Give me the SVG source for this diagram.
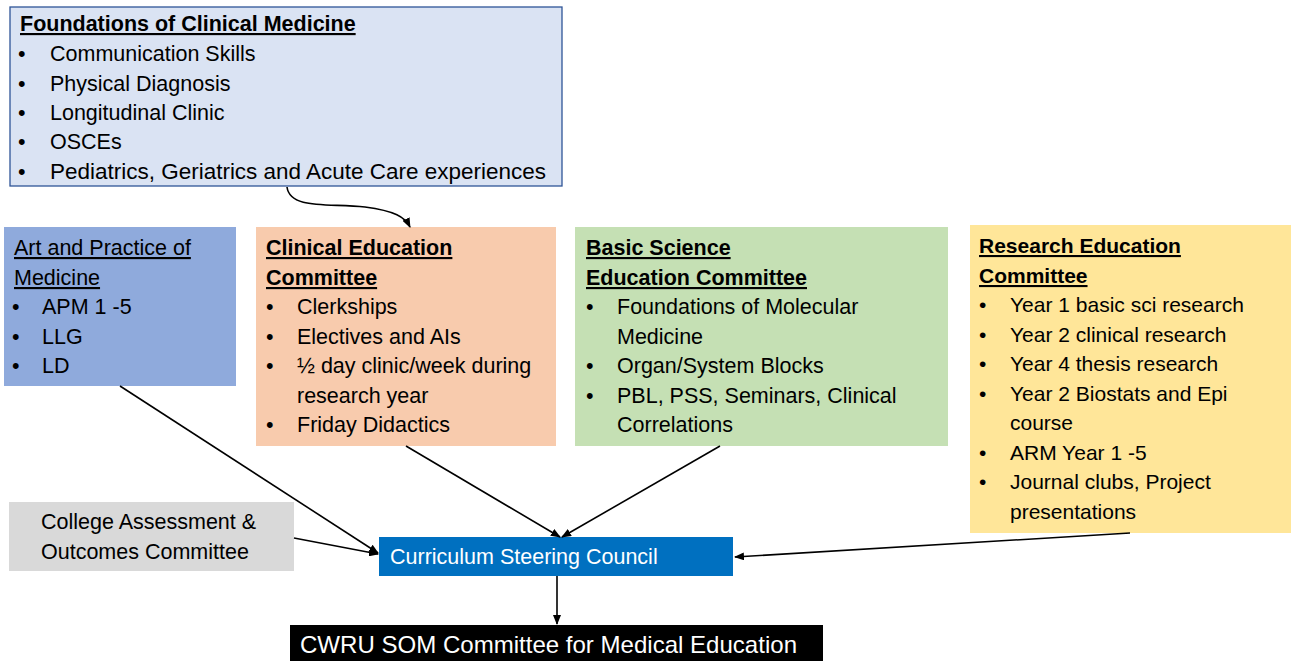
<svg xmlns="http://www.w3.org/2000/svg" width="1291" height="661" viewBox="0 0 1291 661">
<defs>
<marker id="ah" markerWidth="10" markerHeight="8" refX="9" refY="4" orient="auto" markerUnits="userSpaceOnUse">
<path d="M0,0 L10,4 L0,8 z" fill="#000"/>
</marker>
<style>
text{font-family:"Liberation Sans",Arial,sans-serif;font-size:21.5px;fill:#000}
.t{text-decoration:underline}
.b{font-weight:bold}
.y text{font-size:21px}
.w{fill:#fff}
.c{stroke:#000;stroke-width:1.6;fill:none;marker-end:url(#ah)}
</style>
</defs>
<rect width="1291" height="661" fill="#fff"/>
<g id="fcm">
<rect x="10" y="7" width="552" height="179" fill="#dae3f3" stroke="#2f5597" stroke-width="1.3"/>
<text x="20" y="31" class="t b">Foundations of Clinical Medicine</text>
<text x="18" y="61">•</text><text x="50" y="61">Communication Skills</text>
<text x="18" y="91">•</text><text x="50" y="91">Physical Diagnosis</text>
<text x="18" y="120">•</text><text x="50" y="120">Longitudinal Clinic</text>
<text x="18" y="149">•</text><text x="50" y="149">OSCEs</text>
<text x="18" y="179">•</text><text x="50" y="179" textLength="496" lengthAdjust="spacingAndGlyphs">Pediatrics, Geriatrics and Acute Care experiences</text>
</g>
<g id="apm">
<rect x="4" y="227" width="232" height="159" fill="#8faadc"/>
<text x="14" y="255" class="t">Art and Practice of</text>
<text x="14" y="285" class="t">Medicine</text>
<text x="12" y="314">•</text><text x="42" y="314">APM 1 -5</text>
<text x="12" y="344">•</text><text x="42" y="344">LLG</text>
<text x="12" y="373">•</text><text x="42" y="373">LD</text>
</g>
<g id="cec">
<rect x="256" y="227" width="300" height="219" fill="#f8cbad"/>
<text x="266" y="255" class="t b">Clinical Education</text>
<text x="266" y="285" class="t b">Committee</text>
<text x="266" y="314">•</text><text x="297" y="314">Clerkships</text>
<text x="266" y="344">•</text><text x="297" y="344">Electives and AIs</text>
<text x="266" y="373">•</text><text x="297" y="373">½ day clinic/week during</text>
<text x="297" y="403">research year</text>
<text x="266" y="432">•</text><text x="297" y="432">Friday Didactics</text>
</g>
<g id="bsec">
<rect x="575" y="227" width="373" height="219" fill="#c5e0b4"/>
<text x="586" y="255" class="t b">Basic Science</text>
<text x="586" y="285" class="t b">Education Committee</text>
<text x="586" y="314">•</text><text x="617" y="314">Foundations of Molecular</text>
<text x="617" y="344">Medicine</text>
<text x="586" y="373">•</text><text x="617" y="373">Organ/System Blocks</text>
<text x="586" y="403">•</text><text x="617" y="403">PBL, PSS, Seminars, Clinical</text>
<text x="617" y="432">Correlations</text>
</g>
<g id="rec" class="y">
<rect x="970" y="225" width="321" height="308" fill="#ffe699"/>
<text x="979" y="253" class="t b">Research Education</text>
<text x="979" y="283" class="t b">Committee</text>
<text x="979" y="312">•</text><text x="1010" y="312">Year 1 basic sci research</text>
<text x="979" y="342">•</text><text x="1010" y="342">Year 2 clinical research</text>
<text x="979" y="371">•</text><text x="1010" y="371">Year 4 thesis research</text>
<text x="979" y="401">•</text><text x="1010" y="401">Year 2 Biostats and Epi</text>
<text x="1010" y="430">course</text>
<text x="979" y="460">•</text><text x="1010" y="460">ARM Year 1 -5</text>
<text x="979" y="489">•</text><text x="1010" y="489">Journal clubs, Project</text>
<text x="1010" y="519">presentations</text>
</g>
<g id="caoc">
<rect x="9" y="502" width="285" height="69" fill="#d9d9d9"/>
<text x="41" y="529">College Assessment &amp;</text>
<text x="41" y="559">Outcomes Committee</text>
</g>
<g id="csc">
<rect x="379" y="537" width="354" height="39" fill="#0070c0"/>
<text x="390" y="564" class="w">Curriculum Steering Council</text>
</g>
<g id="cme">
<rect x="290" y="625" width="533" height="36" fill="#000"/>
<text x="300" y="653" class="w" style="font-size:24px" textLength="497" lengthAdjust="spacingAndGlyphs">CWRU SOM Committee for Medical Education</text>
</g>
<g id="connectors">
<path class="c" d="M287,187 C290,210 330,203 365,207 C395,211 405,217 410,227"/>
<path class="c" d="M120,386 L378,553"/>
<path class="c" d="M294,538 L378,554"/>
<path class="c" d="M406,446 L560,537"/>
<path class="c" d="M720,446 L562,537"/>
<path class="c" d="M1130,533 L735,557"/>
<path class="c" d="M557,576 L557,624"/>
</g>
</svg>
